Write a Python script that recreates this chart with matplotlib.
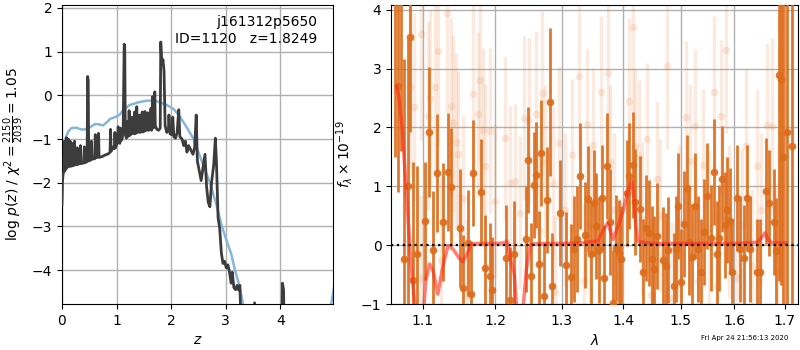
import matplotlib
matplotlib.use("Agg")
import matplotlib.pyplot as plt
from matplotlib.ticker import FormatStrFormatter, NullLocator, NullFormatter

# ---- p(z) panel data ----
pz_z = [0.00, 0.01, 0.02, 0.035, 0.045, 0.055, 0.07, 0.08, 0.09, 0.105,
        0.115, 0.125, 0.14, 0.15, 0.16, 0.18, 0.19, 0.20, 0.22, 0.23,
        0.24, 0.27, 0.28, 0.29, 0.33, 0.34, 0.35, 0.40, 0.41, 0.42,
        0.46, 0.47, 0.48, 0.49, 0.53, 0.54, 0.55, 0.60, 0.61, 0.62,
        0.66, 0.67, 0.68, 0.74, 0.80, 0.85, 0.88, 0.89, 0.90, 0.94,
        0.96, 0.97, 0.98, 1.02, 1.03, 1.04, 1.06, 1.07, 1.08, 1.10,
        1.12, 1.14, 1.15, 1.16, 1.18, 1.19, 1.20, 1.22, 1.23, 1.24,
        1.27, 1.28, 1.29, 1.32, 1.33, 1.34, 1.36, 1.37, 1.38, 1.41,
        1.42, 1.43, 1.46, 1.47, 1.48, 1.51, 1.52, 1.53, 1.56, 1.57,
        1.58, 1.62, 1.63, 1.64, 1.66, 1.67, 1.69, 1.70, 1.71, 1.74,
        1.77, 1.80, 1.81, 1.83, 1.85, 1.87, 1.89, 1.92, 1.95, 1.96,
        1.98, 2.01, 2.03, 2.05, 2.08, 2.11, 2.14, 2.16, 2.20, 2.23,
        2.26, 2.29, 2.32, 2.36, 2.40, 2.43, 2.46, 2.48, 2.52, 2.55,
        2.58, 2.62, 2.65, 2.68, 2.71, 2.74, 2.78, 2.81, 2.83, 2.86,
        2.89, 2.92, 2.95, 2.98, 3.01, 3.04, 3.07, 3.10, 3.12, 3.15,
        3.18, 3.21, 3.24, 3.26, 3.28, 3.35, 3.50, 3.53, 3.56, 3.70,
        4.02, 4.04, 4.06, 4.08, 4.97]
pz_logp = [-2.50, -1.95, -1.80, -1.75, -1.05, -1.72, -1.68, -0.97, -1.66, -1.63,
           -1.00, -1.63, -1.62, -1.05, -1.62, -1.62, -1.10, -1.61, -1.60, -1.05,
           -1.59, -1.58, -1.20, -1.58, -1.56, -1.15, -1.56, -1.55, -1.18, -1.54,
           -1.52, 0.43, 0.35, -1.50, -1.48, -1.05, -1.46, -1.45, -0.90, -1.43,
           -1.41, -0.87, -1.42, -1.40, -1.36, -1.34, -1.30, -0.78, -1.28, -1.18,
           -1.22, -0.85, -1.20, -1.06, -0.72, -1.02, -1.10, -0.75, -1.04, -1.00,
           -0.85, 1.17, 1.10, -0.90, -0.98, -0.60, -0.95, -0.92, -0.35, -0.92,
           -0.88, -0.50, -0.88, -0.86, -0.38, -0.88, -0.85, -0.26, -0.85, -0.83,
           -0.45, -0.85, -0.82, -0.38, -0.84, -0.82, -0.37, -0.80, -0.79, -0.40,
           -0.80, -0.78, -0.30, -0.80, -0.03, -0.75, -0.72, 0.08, -0.70, -0.78,
           -0.80, -0.75, 1.22, 0.70, 0.82, 0.55, -0.70, -0.85, -0.78, -0.45,
           -0.88, -0.90, -0.50, -0.95, -0.98, -0.85, -0.33, -0.95, -1.00, -1.15,
           -1.05, -1.30, -1.15, -1.25, -1.35, -1.20, -0.45, -1.50, -1.75, -1.95,
           -1.70, -1.35, -2.10, -2.45, -2.55, -2.00, -1.60, -0.98, -1.50, -2.80,
           -3.05, -3.60, -3.85, -3.80, -3.95, -3.88, -4.05, -4.30, -4.05, -4.40,
           -4.45, -4.35, -4.46, -4.35, -5.20, -6.00, -5.20, -4.75, -5.20, -6.00,
           -6.00, -4.30, -4.45, -6.00, -6.00]

prior_z = [0.00, 0.02, 0.05, 0.08, 0.12, 0.17, 0.26, 0.35, 0.42, 0.50,
           0.60, 0.67, 0.75, 0.82, 0.88, 0.97, 1.05, 1.12, 1.24, 1.43,
           1.58, 1.73, 1.92, 2.05, 2.16, 2.28, 2.41, 2.53, 2.62, 2.71,
           2.84, 2.93, 3.05, 3.10, 3.17, 3.25, 3.32, 3.40, 4.85, 4.93, 4.99]
prior_logp = [-1.90, -1.35, -1.05, -0.93, -0.82, -0.75, -0.74, -0.78, -0.78, -0.74,
              -0.66, -0.66, -0.69, -0.62, -0.54, -0.50, -0.45, -0.34, -0.22, -0.15,
              -0.12, -0.13, -0.22, -0.32, -0.49, -0.72, -1.00, -1.40, -1.70, -2.00,
              -2.55, -3.00, -3.45, -3.62, -4.00, -4.35, -4.78, -5.50, -5.50, -4.80, -4.35]

# ---- spectrum panel data ----
dark_wave = [1.064, 1.068, 1.072, 1.076, 1.080, 1.083, 1.087, 1.093, 1.103, 1.108,
             1.113, 1.119, 1.127, 1.134, 1.138, 1.150, 1.155, 1.161, 1.165, 1.169,
             1.180, 1.185, 1.192, 1.196, 1.215, 1.221, 1.228, 1.245, 1.249, 1.253,
             1.258, 1.261, 1.265, 1.268, 1.273, 1.277, 1.282, 1.285, 1.298, 1.306,
             1.314, 1.319, 1.324, 1.329, 1.337, 1.342, 1.347, 1.352, 1.355, 1.360,
             1.365, 1.368, 1.373, 1.378, 1.383, 1.387, 1.392, 1.396, 1.406, 1.410,
             1.416, 1.420, 1.429, 1.434, 1.439, 1.443, 1.449, 1.453, 1.457, 1.468,
             1.473, 1.477, 1.487, 1.491, 1.495, 1.500, 1.506, 1.511, 1.515, 1.520,
             1.526, 1.532, 1.536, 1.542, 1.548, 1.555, 1.561, 1.567, 1.571, 1.577,
             1.582, 1.586, 1.591, 1.596, 1.605, 1.611, 1.618, 1.624, 1.630, 1.644,
             1.649, 1.661, 1.667, 1.677, 1.682, 1.689, 1.693, 1.697, 1.705, 1.714]
dark_flux = [5.50, 2.71, 4.60, -0.24, 1.00, 3.53, -0.59, -0.15, 0.41, 1.92,
             -0.08, 1.22, 0.39, 1.24, 0.99, 0.29, -0.73, 0.04, -0.82, 1.22,
             0.90, -0.39, -0.52, -0.76, -0.22, -0.93, -0.15, 0.10, 1.44, -0.53,
             1.03, 1.20, -0.32, 1.56, -0.86, 0.76, 2.43, -0.70, 0.54, -0.34,
             -0.54, -0.07, 0.11, 1.17, 0.17, 0.79, -0.15, 0.71, 0.33, -0.08,
             0.80, -0.56, 1.34, 0.40, -0.98, -0.04, -0.14, -0.24, 0.88, 1.18,
             1.36, 0.74, 0.61, -0.45, 0.30, 0.21, -0.24, -0.41, 0.15, -0.25,
             -0.35, -0.08, -0.70, -0.07, 0.67, -0.62, 0.36, 0.97, 0.06, -0.20,
             0.67, -0.07, -0.45, 0.23, 0.84, 0.13, 1.24, -0.15, 0.13, 1.13,
             0.34, 0.60, 0.41, -0.46, 0.81, -0.06, -0.22, 0.81, -0.07, -0.46,
             -0.46, 0.92, 0.72, 0.40, -0.10, 2.89, 2.83, 1.50, 1.92, 1.69]
dark_err = [4.0, 1.8, 3.0, 3.4, 2.5, 1.6, 2.0, 1.5, 1.0, 1.1,
            1.0, 1.0, 1.0, 1.0, 1.0, 1.0, 0.9, 0.9, 0.9, 0.9,
            0.9, 0.9, 0.9, 0.9, 0.9, 0.9, 0.9, 0.9, 0.9, 0.9,
            0.9, 0.9, 0.9, 0.9, 0.9, 0.9, 1.25, 0.9, 0.9, 0.9,
            0.9, 0.9, 0.9, 0.9, 0.9, 0.9, 0.9, 0.9, 0.9, 0.9,
            0.9, 0.9, 0.9, 0.9, 0.9, 0.9, 0.9, 0.9, 0.9, 0.9,
            0.9, 0.9, 0.9, 0.9, 0.9, 0.9, 0.9, 0.9, 0.9, 0.9,
            0.9, 0.9, 0.9, 0.9, 0.9, 0.9, 0.9, 0.9, 0.9, 0.9,
            0.9, 0.9, 0.9, 0.9, 0.9, 0.9, 0.9, 0.9, 0.9, 0.9,
            0.9, 0.9, 0.9, 0.9, 0.9, 0.9, 0.9, 0.9, 0.9, 0.9,
            0.9, 0.9, 0.9, 0.9, 0.9, 3.5, 3.5, 3.5, 3.5, 3.0]

light_wave = [1.083, 1.088, 1.097, 1.107, 1.110, 1.116, 1.120, 1.133, 1.138, 1.140,
              1.145, 1.147, 1.168, 1.176, 1.179, 1.182, 1.186, 1.193, 1.214, 1.222,
              1.229, 1.243, 1.250, 1.260, 1.270, 1.274, 1.286, 1.295, 1.316, 1.328,
              1.340, 1.350, 1.363, 1.374, 1.378, 1.409, 1.417, 1.419, 1.426, 1.441,
              1.457, 1.476, 1.509, 1.517, 1.525, 1.540, 1.561, 1.574, 1.583, 1.623,
              1.643, 1.664, 1.674,
              1.098, 1.125, 1.155, 1.160, 1.200, 1.236, 1.265, 1.290, 1.305, 1.335,
              1.345, 1.385, 1.395, 1.432, 1.447, 1.463, 1.485, 1.497, 1.531, 1.552,
              1.566, 1.590, 1.605, 1.615, 1.635, 1.652, 1.683]
light_flux = [2.68, 2.35, 3.58, 2.19, 2.50, 2.68, 3.29, 3.95, 2.36, 2.07,
              1.76, 1.55, 2.57, 2.22, 2.81, 1.95, 1.34, 1.94, 1.82, 1.06,
              1.09, 2.16, 2.12, 2.23, 2.58, 1.42, 1.05, 1.73, 1.53, 2.88,
              2.05, 1.71, 2.60, 2.92, 1.42, 2.45, 3.70, 1.69, 1.50, 1.80,
              1.13, 3.04, 2.17, 1.43, 2.03, 1.36, 2.60, 2.19, 3.31, 1.69,
              1.34, 2.04, 2.02,
              -0.55, -0.25, 0.80, -0.85, 0.75, 0.55, 0.25, -0.80, 0.60, -0.60,
              0.35, 0.60, -0.50, 0.45, -0.85, 0.50, -0.90, 0.40, -0.60, 0.30,
              -0.70, 0.40, -0.55, 0.35, -0.35, 0.60, -0.45]
light_err = [1.5, 1.6, 1.8, 1.6, 1.5, 1.5, 1.6, 1.7, 1.5, 1.5,
             1.5, 1.4, 1.5, 1.4, 1.4, 1.4, 1.4, 1.4, 1.4, 1.3,
             1.3, 1.4, 1.4, 1.4, 1.4, 1.3, 1.3, 1.3, 1.3, 1.4,
             1.3, 1.3, 1.3, 1.4, 1.3, 1.4, 1.5, 1.3, 1.3, 1.3,
             1.3, 1.4, 1.3, 1.3, 1.3, 1.3, 1.3, 1.3, 1.4, 1.3,
             1.3, 1.4, 1.5,
             1.4, 1.4, 1.4, 1.3, 1.3, 1.3, 1.3, 1.3, 1.3, 1.3,
             1.3, 1.3, 1.3, 1.3, 1.3, 1.3, 1.3, 1.3, 1.3, 1.3,
             1.3, 1.3, 1.3, 1.3, 1.3, 1.3, 1.5]

model_wave = [1.066, 1.069, 1.073, 1.077, 1.081, 1.085, 1.089, 1.093, 1.100, 1.104,
              1.109, 1.114, 1.120, 1.127, 1.134, 1.141, 1.148, 1.154, 1.160, 1.166,
              1.175, 1.200, 1.213, 1.217, 1.222, 1.228, 1.232, 1.240, 1.246, 1.252,
              1.270, 1.300, 1.330, 1.358, 1.366, 1.374, 1.379, 1.383, 1.392, 1.400,
              1.407, 1.414, 1.418, 1.421, 1.425, 1.450, 1.500, 1.550, 1.600, 1.645,
              1.654, 1.660, 1.666, 1.674, 1.690, 1.703]
model_flux = [2.70, 2.50, 2.00, 1.20, 0.40, -0.40, -0.95, -1.30, -1.30, -0.60,
              -0.32, -0.45, -0.83, -0.35, 0.00, -0.07, -0.20, -0.28, -0.15, 0.02,
              0.03, 0.03, 0.04, 0.07, -0.20, -0.50, -1.20, -1.20, -0.40, 0.02,
              0.03, 0.03, 0.04, 0.07, 0.25, 0.38, 0.22, 0.10, 0.35, 0.60,
              0.90, 1.09, 0.80, 0.35, 0.06, 0.03, 0.03, 0.03, 0.03, 0.05,
              0.14, 0.21, 0.10, 0.04, 0.04, 0.04]

wave_ticks = [1.1, 1.2, 1.3, 1.4, 1.5, 1.6, 1.7]

fig = plt.figure(figsize=(8, 3.5), dpi=100)

# left: redshift probability
ax1 = fig.add_axes([0.0775, 0.131, 0.339, 0.855])
ax1.plot(prior_z, prior_logp, color='#86b6da', lw=1.8, zorder=2)
ax1.plot(pz_z, pz_logp, color='#3c3c3c', lw=2.0, zorder=3)
ax1.set_xlim(0, 4.97)
ax1.set_ylim(-4.78, 2.07)
ax1.set_xticks([0, 1, 2, 3, 4])
ax1.set_yticks([-4, -3, -2, -1, 0, 1, 2])
ax1.grid(True, color='#b0b0b0', lw=1.0)
ax1.set_axisbelow(True)
ax1.set_xlabel(r'$z$', fontsize=10)
ax1.set_ylabel(r'$\log\,p(z)$ / $\chi^2=\frac{2150}{2039}=1.05$', fontsize=10)
ax1.text(0.942, 0.965, 'j161312p5650\nID=1120   z=1.8249',
         ha='right', va='top', transform=ax1.transAxes, fontsize=10)

# right: spectrum
ax2 = fig.add_axes([0.489, 0.131, 0.5085, 0.855])
ax2.set_xscale('log')
ax2.errorbar(light_wave, light_flux, yerr=light_err, fmt='o', color='#e8803a',
             alpha=0.16, ms=5.5, mec='none', elinewidth=2.5, capsize=0, zorder=2)
ax2.errorbar(dark_wave, dark_flux, yerr=dark_err, fmt='o', color='#dc6d1c',
             alpha=0.92, ms=5.5, mec='none', elinewidth=2.0, capsize=0, zorder=3)
ax2.plot(model_wave, model_flux, color='#ff2a1a', alpha=0.6, lw=2.5, zorder=4)
ax2.axhline(0, color='k', ls=':', lw=1.6, zorder=5)
ax2.set_xlim(1.059, 1.727)
ax2.set_ylim(-1.0, 4.08)
ax2.set_xticks(wave_ticks)
ax2.xaxis.set_major_formatter(FormatStrFormatter('%.1f'))
ax2.xaxis.set_minor_locator(NullLocator())
ax2.xaxis.set_minor_formatter(NullFormatter())
ax2.set_yticks([-1, 0, 1, 2, 3, 4])
ax2.grid(True, color='#b0b0b0', lw=1.0)
ax2.set_axisbelow(True)
ax2.set_xlabel(r'$\lambda$', fontsize=10)
ax2.set_ylabel(r'$f_\lambda \times 10^{-19}$', fontsize=10)

fig.text(0.985, 0.025, 'Fri Apr 24 21:56:13 2020', ha='right', va='bottom', fontsize=5)

fig.savefig('out.png', dpi=100)
